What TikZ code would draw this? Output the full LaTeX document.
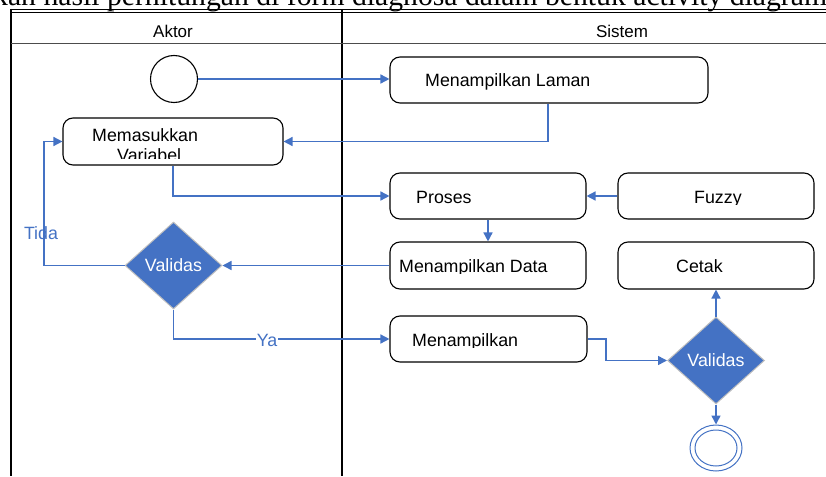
\documentclass[tikz,border=0pt]{standalone}
\usepackage{fontspec}
\setmainfont{Liberation Sans}
\newfontfamily\capserif{Liberation Serif}
\usetikzlibrary{shapes.geometric,arrows.meta}
\definecolor{flowblue}{HTML}{4472C4}
\begin{document}
\begin{tikzpicture}[x=1pt,y=-1pt,
  act/.style={draw=black,line width=1.1pt,rounded corners=10pt,fill=white,
    minimum width=#1,minimum height=46pt,inner sep=0pt},
  lbl/.style={anchor=base west,inner sep=0pt,font=\fontsize{17.8}{20}\selectfont},
  head/.style={anchor=base,inner sep=0pt,font=\fontsize{17}{19}\selectfont},
  flow/.style={draw=flowblue,line width=1.5pt,-{Triangle[length=9pt,width=9pt]}},
  flowlbl/.style={text=flowblue,inner sep=0.5pt,font=\fontsize{17.8}{20}\selectfont},
  decide/.style={diamond,fill=flowblue,draw=black!25,line width=1pt,
    minimum width=97pt,minimum height=87pt,inner sep=0pt,text=white,
    font=\fontsize{17.8}{20}\selectfont}]
\useasboundingbox (0,0) rectangle (826,476);
\clip (0,0) rectangle (826,476);

% caption line above the table
\node[anchor=base west,inner sep=0pt,font=\capserif\fontsize{29.7}{31}\selectfont]
  (caption) at (-7,6) {kan hasil perhitungan di form diagnosa dalam bentuk activity diagram};

% swimlane frame
\draw[line width=1pt] (11,9.6) -- (826,9.6);
\draw[line width=1.2pt] (11,12.2) -- (826,12.2);
\draw[line width=1.2pt] (11,9) -- (11,476);
\draw[line width=1.2pt] (342,9) -- (342,476);
\draw[line width=1pt,black!70] (11,44) -- (826,44);
\node[head] (aktor) at (173,38) {Aktor};
\node[head] (sistem) at (622,38) {Sistem};

% activities
\node[draw,circle,line width=1.1pt,minimum size=47pt,inner sep=0pt] (start) at (174,79) {};
\node[act=318] (laman) at (549,80) {};
\node[act=220,minimum height=47pt] (masuk) at (173,141.5) {};
\node[act=196] (proses) at (488,196) {};
\node[act=196] (fuzzy) at (716,196) {};
\node[act=196,minimum height=47pt] (data) at (488,265.5) {};
\node[act=196,minimum height=47pt] (cetak) at (716,265.5) {};
\node[act=197] (tampil) at (488.5,339) {};
\node[decide] (valid1) at (173.5,265.5) {Validas};
\node[decide] (valid2) at (716,360.5) {Validas};
\node[ellipse,draw=flowblue,line width=1pt,fill=white,minimum width=52pt,
  minimum height=46pt,inner sep=0pt] (stop) at (716,448) {};
\node[ellipse,draw=flowblue,line width=1pt,minimum width=42pt,
  minimum height=36pt,inner sep=0pt] (stopcore) at (stop) {};

% activity texts, cut off by the box like in a fixed-height text area
\node[lbl] (tlaman) at (425,87) {Menampilkan Laman};
\begin{scope}
  \clip (63,118) rectangle (283,158.5);
  \node[lbl] (tmasuk) at (92,141) {Memasukkan};
  \node[lbl] (tvariabel) at (117,161) {Variabel};
\end{scope}
\node[lbl] (tproses) at (416,203) {Proses};
\begin{scope}
  \clip (618,173) rectangle (814,204.5);
  \node[lbl] (tfuzzy) at (694,203) {Fuzzy};
\end{scope}
\begin{scope}
  \clip (390,242) rectangle (586,273.5);
  \node[lbl] (tdata) at (399,272.5) {Menampilkan Data};
\end{scope}
\node[lbl] (tcetak) at (676,272.5) {Cetak};
\begin{scope}
  \clip (390,316) rectangle (587,347.8);
  \node[lbl] (ttampil) at (412,346.5) {Menampilkan};
\end{scope}

% control flow
\draw[flow] (start.east) -- (laman.west |- start.east);
\draw[flow] (laman.south -| 548,0) |- (masuk.east);
\draw[flow] (masuk.south) |- (proses.west);
\draw[flow] (fuzzy.west) -- (proses.east);
\draw[flow] (proses.south) -- (data.north);
\draw[flow] (data.west) -- (valid1.east);
\draw[flow] (valid1.west) -- (44,265.5) |- (masuk.west);
\node[flowlbl] (tida) at (41,233) {Tida};
\draw[flow] (valid1.south) |- (tampil.west);
\node[flowlbl,fill=white] (ya) at (267,340) {Ya};
\draw[flow] (tampil.east) -- (606,339) |- (valid2.west);
\draw[flow] (valid2.north) -- (cetak.south);
\draw[flow] (valid2.south) -- (stop.north);
\end{tikzpicture}
\end{document}
